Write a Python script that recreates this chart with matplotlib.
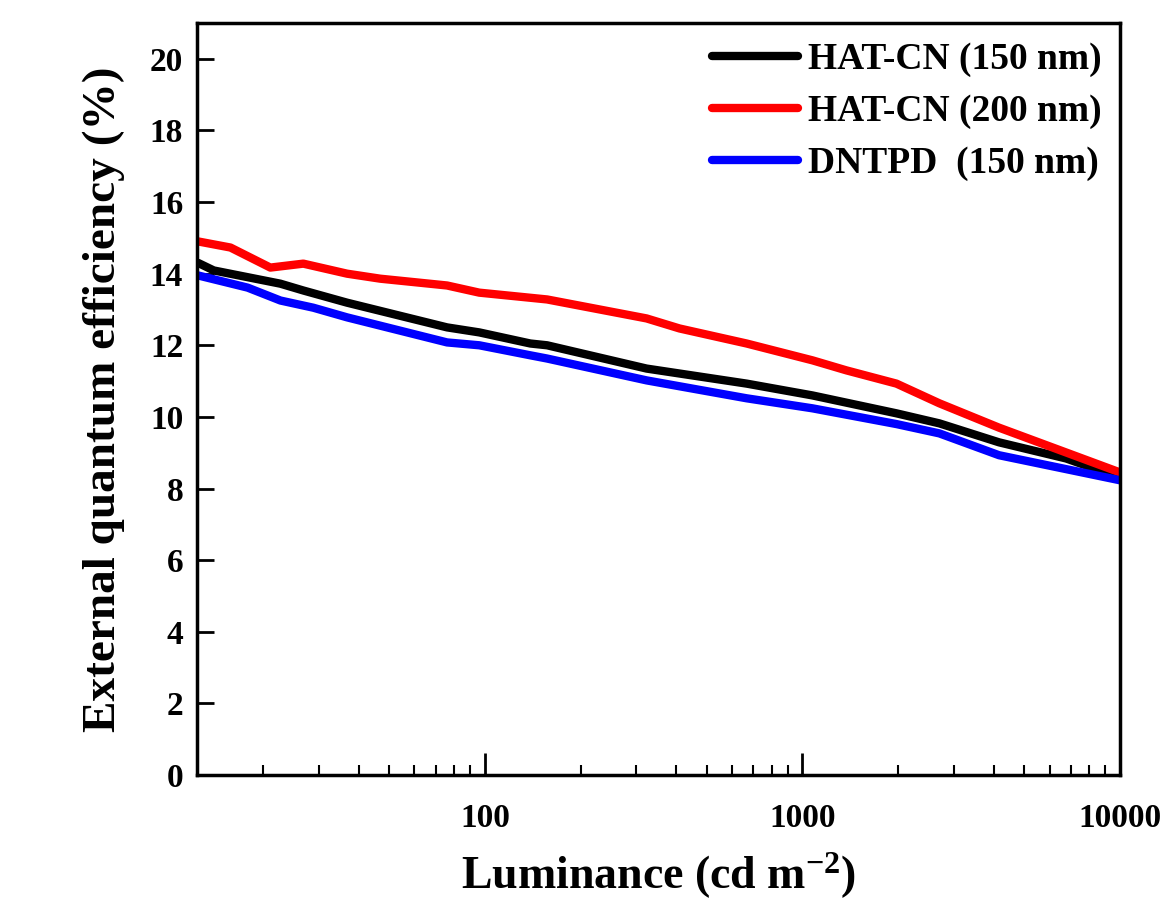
import matplotlib
matplotlib.use("Agg")
import matplotlib.pyplot as plt
from matplotlib.ticker import FixedLocator, LogLocator, NullFormatter, FuncFormatter

plt.rcParams['font.family'] = ['Liberation Serif', 'DejaVu Serif']
plt.rcParams['font.weight'] = 'bold'
plt.rcParams['axes.labelweight'] = 'bold'
plt.rcParams['mathtext.fontset'] = 'custom'
plt.rcParams['mathtext.rm'] = 'Liberation Serif:bold'
plt.rcParams['mathtext.bf'] = 'Liberation Serif:bold'
plt.rcParams['mathtext.default'] = 'rm'

# luminance (cd m-2) and EQE (%)
lum_black = [12.5, 14.0, 22.7, 26.8, 36.8, 76, 96, 139, 157, 323, 667, 1075, 1977, 2698, 4160, 6761, 10000]
eqe_black = [14.3, 14.09, 13.72, 13.53, 13.19, 12.5, 12.36, 12.05, 12.0, 11.35, 10.93, 10.6, 10.1, 9.82, 9.29, 8.84, 8.31]

lum_red = [12.5, 15.8, 21.1, 26.8, 36.8, 46.8, 76, 96, 157, 323, 410, 667, 1075, 1375, 1977, 2698, 4160, 10000]
eqe_red = [14.9, 14.73, 14.17, 14.28, 14.0, 13.86, 13.67, 13.47, 13.28, 12.75, 12.47, 12.05, 11.58, 11.3, 10.93, 10.38, 9.7, 8.45]

lum_blue = [12.5, 17.9, 22.7, 28.8, 36.8, 76, 96, 139, 157, 323, 667, 1075, 1977, 2698, 4160, 10000]
eqe_blue = [13.95, 13.61, 13.25, 13.05, 12.78, 12.08, 12.0, 11.72, 11.63, 11.02, 10.52, 10.24, 9.8, 9.54, 8.93, 8.23]

labels = ['HAT-CN (150 nm)', 'HAT-CN (200 nm)', 'DNTPD  (150 nm)']
colors = ['black', '#ff0000', '#0000ff']

fig = plt.figure(figsize=(11.68, 9.09), dpi=100)
ax = fig.add_axes([0.1687, 0.1474, 0.7902, 0.8273])

for xs, ys, lab, c in zip([lum_black, lum_red, lum_blue],
                          [eqe_black, eqe_red, eqe_blue], labels, colors):
    ax.plot(xs, ys, color=c, lw=6, label=lab, solid_capstyle='round')

ax.set_xscale('log')
ax.set_xlim(12.4, 10000)
ax.set_ylim(0, 21)
ax.yaxis.set_major_locator(FixedLocator(range(0, 21, 2)))
ax.xaxis.set_major_locator(FixedLocator([100, 1000, 10000]))
ax.xaxis.set_major_formatter(FuncFormatter(lambda v, p: f"{int(v)}"))
ax.xaxis.set_minor_locator(LogLocator(base=10, subs=range(2, 10)))
ax.xaxis.set_minor_formatter(NullFormatter())

ax.tick_params(axis='both', which='major', direction='in', length=12, width=2, pad=10)
ax.tick_params(axis='y', labelsize=24)
ax.tick_params(axis='x', which='minor', direction='in', length=7, width=1.5)
ax.tick_params(axis='x', which='major', length=16, pad=20, labelsize=24)
for s in ax.spines.values():
    s.set_linewidth(2.5)

ax.set_xlabel('Luminance (cd m$^{-2}$)', fontsize=33, labelpad=12)
ax.set_ylabel('External quantum efficiency (%)', fontsize=34, labelpad=18)

leg = ax.legend(loc='upper right', frameon=False, fontsize=27, handlelength=2.3,
                handletextpad=0.25, labelspacing=0.45, borderaxespad=0.1)

fig.savefig('out.png', dpi=100)
